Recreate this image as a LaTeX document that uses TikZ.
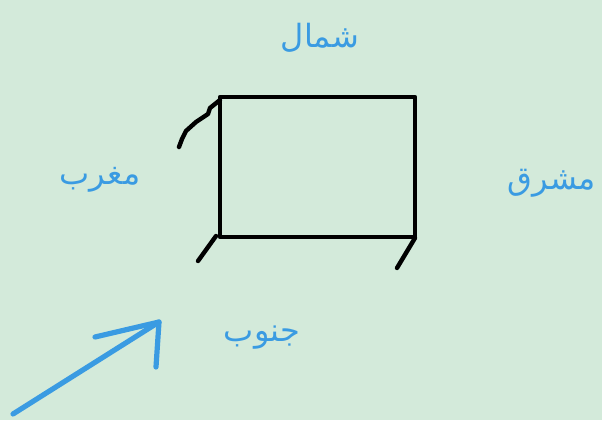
\documentclass[tikz,border=0pt]{standalone}
\usepackage{fontspec}
\newfontfamily\arabicfont[Script=Arabic]{DejaVu Sans}
\TeXXeTstate=1
\definecolor{bgmint}{HTML}{D3EADA}
\definecolor{penblue}{HTML}{3A9BE2}
\tikzset{
  label/.style={text=penblue, font=\arabicfont\fontsize{16}{19}\selectfont, inner sep=0pt},
  pen/.style={line width=2.2pt, line cap=round, line join=round}
}
\begin{document}
\begin{tikzpicture}[x=0.5pt, y=0.5pt]
  \fill[bgmint] (0,0) rectangle (602,420);
  \useasboundingbox (0,0) rectangle (602,420);
  % box and its legs
  \draw[pen, black, line cap=butt] (220,183) rectangle (415,323);
  \draw[pen, black] (220,320) -- (210,312) -- (208,306) -- (196,298) -- (186,289) -- (182,281) -- (179,273);
  \draw[pen, black] (216,184) -- (198,159);
  \draw[pen, black] (415,182) -- (397,152);
  % directions
  \node[label] (north) at (320,382) {\beginR شمال\endR};
  \node[label] (west) at (100,240) {\beginR مغرب\endR};
  \node[label] (east) at (552,237) {\beginR مشرق\endR};
  \node[label] (south) at (262,82) {\beginR جنوب\endR};
  % arrow
  \coordinate (tail) at (13,6);
  \coordinate (tip) at (159,98);
  \draw[pen, penblue, line width=2.6pt] (tail) -- (tip);
  \draw[pen, penblue, line width=2.6pt] (95,83) -- (tip) -- (156,53);
\end{tikzpicture}
\end{document}
